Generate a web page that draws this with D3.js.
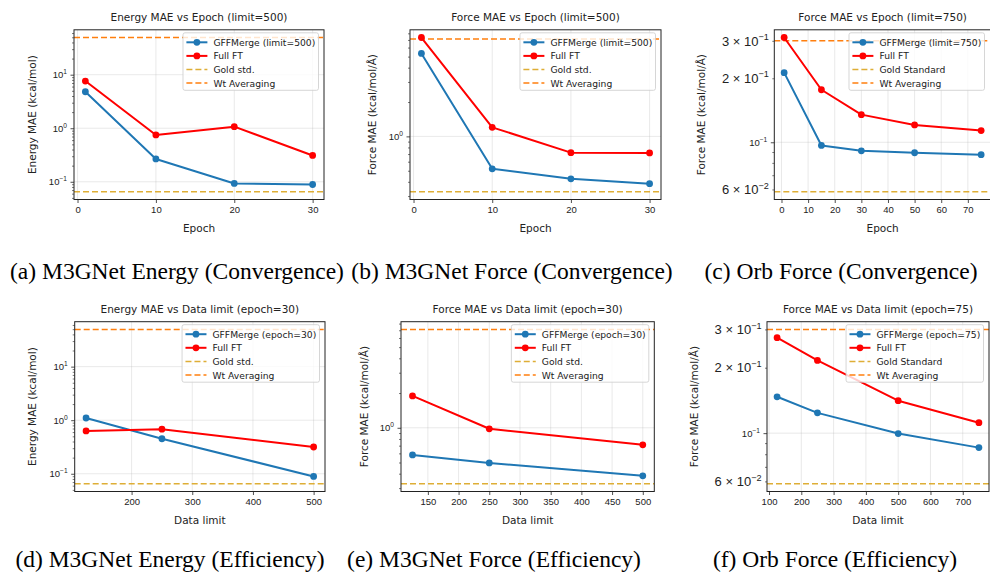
<!DOCTYPE html>
<html>
<head>
<meta charset="utf-8">
<script src="https://cdn.jsdelivr.net/npm/d3@7"></script>
<style>
body { margin: 0; background: #fff; }
svg { display: block; font-family: "DejaVu Sans", sans-serif; }
.caption { font-family: "Liberation Serif", "Times New Roman", serif; font-size: 23.5px; fill: #000; }
</style>
</head>
<body>
<div id="chart"></div>
<script>
"use strict";

// ---------------- Data ----------------
// M3GNet, convergence (limit=500)
const m3gEpochs = [1, 10, 20, 30];
const energyEpochGff = [4.8, 0.267, 0.093, 0.089];
const energyEpochFt = [7.6, 0.75, 1.07, 0.31];
const forceEpochGff = [5.33, 0.52, 0.425, 0.385];
const forceEpochFt = [7.35, 1.2, 0.72, 0.716];

// Orb, convergence (limit=750)
const orbEpochs = [1, 15, 30, 50, 75];
const orbEpochGff = [0.2126, 0.0966, 0.0912, 0.0893, 0.0874];
const orbEpochFt = [0.311, 0.1766, 0.1349, 0.1207, 0.1135];

// M3GNet, efficiency (epoch=30)
const m3gLimits = [125, 250, 500];
const energyLimitGff = [1.10, 0.45, 0.089];
const energyLimitFt = [0.63, 0.68, 0.316];
const forceLimitGff = [0.582, 0.496, 0.383];
const forceLimitFt = [1.89, 0.98, 0.711];

// Orb, efficiency (epoch=75)
const orbLimits = [125, 250, 500, 750];
const orbLimitGff = [0.147, 0.124, 0.0996, 0.0858];
const orbLimitFt = [0.275, 0.216, 0.141, 0.1117];

// Reference lines
const energyGold = 0.065, energyWt = 49.5;
const forceGold = 0.327, forceWt = 7.12;
const orbGold = 0.0585, orbWt = 0.30;

// Tick values
const xTicksM3gEpoch = [0, 10, 20, 30];
const xTicksOrbEpoch = [0, 10, 20, 30, 40, 50, 60, 70];
const xTicksEnergyLimit = [200, 300, 400, 500];
const xTicksForceLimit = [150, 200, 250, 300, 350, 400, 450, 500];
const xTicksOrbLimit = [100, 200, 300, 400, 500, 600, 700];
const orbMinorLabels = [0.06, 0.2, 0.3];

// Colors
const COL_GFF = "#1f77b4";
const COL_FT = "#ff0000";
const COL_GOLD = "#daa520";
const COL_WT = "#ff7f0e";

const W = 990, H = 575;

const panels = [
    { title: "Energy MAE vs Epoch (limit=500)", xLabel: "Epoch", yLabel: "Energy MAE (kcal/mol)",
      x: m3gEpochs, gff: energyEpochGff, ft: energyEpochFt, gold: energyGold, wt: energyWt,
      gffName: "GFFMerge (limit=500)", goldName: "Gold std.", xTicks: xTicksM3gEpoch, minorLabels: [],
      box: { l: 74, r: 324, t: 29.8, b: 199.5 }, yLabelX: 31.7,
      caption: "(a) M3GNet Energy (Convergence)", capX: 177, capY: 279 },
    { title: "Force MAE vs Epoch (limit=500)", xLabel: "Epoch", yLabel: "Force MAE (kcal/mol/Å)",
      x: m3gEpochs, gff: forceEpochGff, ft: forceEpochFt, gold: forceGold, wt: forceWt,
      gffName: "GFFMerge (limit=500)", goldName: "Gold std.", xTicks: xTicksM3gEpoch, minorLabels: [],
      box: { l: 410, r: 661, t: 29.8, b: 199.5 }, yLabelX: 371.7,
      caption: "(b) M3GNet Force (Convergence)", capX: 512, capY: 279 },
    { title: "Force MAE vs Epoch (limit=750)", xLabel: "Epoch", yLabel: "Force MAE (kcal/mol/Å)",
      x: orbEpochs, gff: orbEpochGff, ft: orbEpochFt, gold: orbGold, wt: orbWt,
      gffName: "GFFMerge (limit=750)", goldName: "Gold Standard", xTicks: xTicksOrbEpoch, minorLabels: orbMinorLabels,
      box: { l: 774.3, r: 991, t: 29.8, b: 199.5 }, yLabelX: 701,
      caption: "(c) Orb Force (Convergence)", capX: 841, capY: 279 },
    { title: "Energy MAE vs Data limit (epoch=30)", xLabel: "Data limit", yLabel: "Energy MAE (kcal/mol)",
      x: m3gLimits, gff: energyLimitGff, ft: energyLimitFt, gold: energyGold, wt: energyWt,
      gffName: "GFFMerge (epoch=30)", goldName: "Gold std.", xTicks: xTicksEnergyLimit, minorLabels: [],
      box: { l: 74.7, r: 325, t: 321.7, b: 491.5 }, yLabelX: 32.3,
      caption: "(d) M3GNet Energy (Efficiency)", capX: 170, capY: 567 },
    { title: "Force MAE vs Data limit (epoch=30)", xLabel: "Data limit", yLabel: "Force MAE (kcal/mol/Å)",
      x: m3gLimits, gff: forceLimitGff, ft: forceLimitFt, gold: forceGold, wt: forceWt,
      gffName: "GFFMerge (epoch=30)", goldName: "Gold std.", xTicks: xTicksForceLimit, minorLabels: [],
      box: { l: 401, r: 654.3, t: 321.7, b: 491.5 }, yLabelX: 364.3,
      caption: "(e) M3GNet Force (Efficiency)", capX: 494, capY: 567 },
    { title: "Force MAE vs Data limit (epoch=75)", xLabel: "Data limit", yLabel: "Force MAE (kcal/mol/Å)",
      x: orbLimits, gff: orbLimitGff, ft: orbLimitFt, gold: orbGold, wt: orbWt,
      gffName: "GFFMerge (epoch=75)", goldName: "Gold Standard", xTicks: xTicksOrbLimit, minorLabels: orbMinorLabels,
      box: { l: 767, r: 989, t: 321.7, b: 491.5 }, yLabelX: 694.3,
      caption: "(f) Orb Force (Efficiency)", capX: 835, capY: 567 }
];

// matplotlib style autoscale: 5% margin (in log space for y)
function linDomain(v) {
    var lo = d3.min(v), hi = d3.max(v), m = (hi - lo) * 0.05;
    return [lo - m, hi + m];
}
function logDomain(v) {
    var lo = Math.log10(d3.min(v)), hi = Math.log10(d3.max(v)), m = (hi - lo) * 0.05;
    return [Math.pow(10, lo - m), Math.pow(10, hi + m)];
}

// write "m × 10^e" (or "10^e") into a text node with a raised exponent
function powLabel(textSel, value, size) {
    var e = Math.floor(Math.log10(value) + 1e-9);
    var m = Math.round(value / Math.pow(10, e));
    textSel.text(null).style("font-size", size + "px");
    var base = (m === 1 ? "10" : m + " \u00d7 10");
    textSel.append("tspan").text(base);
    textSel.append("tspan")
        .attr("dy", -size * 0.42)
        .style("font-size", (size * 0.7) + "px")
        .text(String(e).replace("-", "\u2212"));
}

var svg = d3.select("#chart").append("svg")
    .attr("width", W)
    .attr("height", H);

svg.append("rect").attr("width", W).attr("height", H).attr("fill", "#fff");

panels.forEach(function (p, i) {
    var b = p.box;
    var g = svg.append("g");

    var xScale = d3.scaleLinear().domain(linDomain(p.x)).range([b.l, b.r]);
    var yScale = d3.scaleLog()
        .domain(logDomain(p.gff.concat(p.ft, [p.gold, p.wt])))
        .range([b.b, b.t]);

    var yd = yScale.domain();
    var e0 = Math.floor(Math.log10(yd[0])), e1 = Math.ceil(Math.log10(yd[1]));
    var majors = [], minors = [];
    for (var e = e0; e <= e1; e++) {
        var v = Math.pow(10, e);
        if (v >= yd[0] && v <= yd[1]) majors.push(v);
        for (var k = 2; k <= 9; k++) {
            var mv = k * Math.pow(10, e);
            if (mv >= yd[0] && mv <= yd[1]) minors.push(mv);
        }
    }
    var xTicks = p.xTicks.filter(function (t) {
        return t >= xScale.domain()[0] && t <= xScale.domain()[1];
    });

    var clipId = "clip" + i;
    svg.append("clipPath").attr("id", clipId)
        .append("rect")
        .attr("x", b.l).attr("y", b.t)
        .attr("width", b.r - b.l).attr("height", b.b - b.t);

    // grid
    var grid = g.append("g").attr("clip-path", "url(#" + clipId + ")");
    grid.selectAll(".gx").data(xTicks).enter().append("line")
        .attr("x1", function (d) { return xScale(d); })
        .attr("x2", function (d) { return xScale(d); })
        .attr("y1", b.t).attr("y2", b.b)
        .attr("stroke", "#b0b0b0").attr("stroke-opacity", 0.35).attr("stroke-width", 0.8);
    grid.selectAll(".gy").data(majors).enter().append("line")
        .attr("y1", function (d) { return yScale(d); })
        .attr("y2", function (d) { return yScale(d); })
        .attr("x1", b.l).attr("x2", b.r)
        .attr("stroke", "#b0b0b0").attr("stroke-opacity", 0.35).attr("stroke-width", 0.8);

    // plot area
    var plot = g.append("g").attr("clip-path", "url(#" + clipId + ")");

    var refLines = [
        { v: p.gold, color: COL_GOLD, op: 0.9 },
        { v: p.wt, color: COL_WT, op: 1 }
    ];
    plot.selectAll(".ref").data(refLines).enter().append("line")
        .attr("x1", b.l).attr("x2", b.r)
        .attr("y1", function (d) { return yScale(d.v); })
        .attr("y2", function (d) { return yScale(d.v); })
        .attr("stroke", function (d) { return d.color; })
        .attr("stroke-opacity", function (d) { return d.op; })
        .attr("stroke-width", 1.5)
        .attr("stroke-dasharray", "6,3");

    var series = [
        { values: p.gff, color: COL_GFF },
        { values: p.ft, color: COL_FT }
    ];
    var line = d3.line()
        .x(function (d) { return xScale(d[0]); })
        .y(function (d) { return yScale(d[1]); });

    series.forEach(function (s) {
        var pts = p.x.map(function (x, j) { return [x, s.values[j]]; });
        plot.append("path")
            .datum(pts)
            .attr("d", line)
            .attr("fill", "none")
            .attr("stroke", s.color)
            .attr("stroke-width", 2)
            .attr("stroke-linejoin", "round");
        plot.selectAll(null).data(pts).enter().append("circle")
            .attr("cx", function (d) { return xScale(d[0]); })
            .attr("cy", function (d) { return yScale(d[1]); })
            .attr("r", 3.4)
            .attr("fill", s.color);
    });

    // axes
    var xAxis = d3.axisBottom(xScale).tickValues(xTicks).tickSize(3.5).tickPadding(3.5)
        .tickFormat(d3.format("d"));
    var xg = g.append("g").attr("transform", "translate(0," + b.b + ")").call(xAxis);
    xg.select(".domain").remove();
    xg.selectAll("line").attr("stroke", "#222").attr("stroke-width", 0.8);
    xg.selectAll("text").style("font-size", "9.5px").attr("fill", "#222");

    var yMinor = d3.axisLeft(yScale).tickValues(minors).tickSize(2).tickPadding(3.5).tickFormat(function () { return ""; });
    var ymg = g.append("g").attr("transform", "translate(" + b.l + ",0)").call(yMinor);
    ymg.select(".domain").remove();
    ymg.selectAll("line").attr("stroke", "#222").attr("stroke-width", 0.6);
    ymg.selectAll(".tick text").each(function (d) {
        var lab = p.minorLabels.some(function (m) { return Math.abs(m - d) < 1e-9; });
        if (lab) powLabel(d3.select(this).attr("fill", "#222"), d, 13);
    });

    var yMajor = d3.axisLeft(yScale).tickValues(majors).tickSize(3.5).tickPadding(3.5).tickFormat(function () { return ""; });
    var yg = g.append("g").attr("transform", "translate(" + b.l + ",0)").call(yMajor);
    yg.select(".domain").remove();
    yg.selectAll("line").attr("stroke", "#222").attr("stroke-width", 0.8);
    yg.selectAll(".tick text").each(function (d) {
        powLabel(d3.select(this).attr("fill", "#222"), d, 9.5);
    });

    // frame
    g.append("rect")
        .attr("x", b.l).attr("y", b.t)
        .attr("width", b.r - b.l).attr("height", b.b - b.t)
        .attr("fill", "none").attr("stroke", "#222").attr("stroke-width", 1);

    // labels
    g.append("text")
        .attr("x", (b.l + b.r) / 2).attr("y", b.t - 8.5)
        .attr("text-anchor", "middle")
        .style("font-size", "10.5px").attr("fill", "#222")
        .text(p.title);
    g.append("text")
        .attr("x", (b.l + b.r) / 2).attr("y", b.b + 32)
        .attr("text-anchor", "middle")
        .style("font-size", "10.5px").attr("fill", "#222")
        .text(p.xLabel);
    g.append("text")
        .attr("transform", "translate(" + p.yLabelX + "," + ((b.t + b.b) / 2) + ")rotate(-90)")
        .attr("text-anchor", "middle")
        .attr("dominant-baseline", "central")
        .style("font-size", "10.5px").attr("fill", "#222")
        .text(p.yLabel);

    // legend
    var entries = [
        { name: p.gffName, color: COL_GFF, marker: true, dash: null, op: 1 },
        { name: "Full FT", color: COL_FT, marker: true, dash: null, op: 1 },
        { name: p.goldName, color: COL_GOLD, marker: false, dash: "6,3", op: 0.9 },
        { name: "Wt Averaging", color: COL_WT, marker: false, dash: "6,3", op: 1 }
    ];
    var lg = g.append("g");
    var box = lg.append("rect").attr("rx", 2).attr("ry", 2)
        .attr("fill", "#fff").attr("fill-opacity", 0.8)
        .attr("stroke", "#cccccc").attr("stroke-width", 0.8);
    var rows = lg.selectAll(".row").data(entries).enter().append("g")
        .attr("transform", function (d, j) { return "translate(0," + (9.5 + j * 13.6) + ")"; });
    rows.append("line")
        .attr("x1", 3.4).attr("x2", 24.4).attr("y1", 0).attr("y2", 0)
        .attr("stroke", function (d) { return d.color; })
        .attr("stroke-opacity", function (d) { return d.op; })
        .attr("stroke-width", function (d) { return d.marker ? 2 : 1.5; })
        .attr("stroke-dasharray", function (d) { return d.dash; });
    rows.filter(function (d) { return d.marker; }).append("circle")
        .attr("cx", 13.9).attr("cy", 0).attr("r", 3.4)
        .attr("fill", function (d) { return d.color; });
    var texts = rows.append("text")
        .attr("x", 30.4).attr("y", 0)
        .attr("dominant-baseline", "central")
        .style("font-size", "9.2px").attr("fill", "#222")
        .text(function (d) { return d.name; });
    var maxW = 0;
    texts.each(function () { maxW = Math.max(maxW, this.getComputedTextLength()); });
    var lw = 30.4 + maxW + 3.2, lh = 57.5;
    box.attr("width", lw).attr("height", lh);
    lg.attr("transform", "translate(" + (Math.min(b.r, W) - 5.5 - lw) + "," + (b.t + 3) + ")");

    // caption
    svg.append("text")
        .attr("class", "caption")
        .attr("x", p.capX).attr("y", p.capY)
        .attr("text-anchor", "middle")
        .text(p.caption);
});
</script>
</body>
</html>
